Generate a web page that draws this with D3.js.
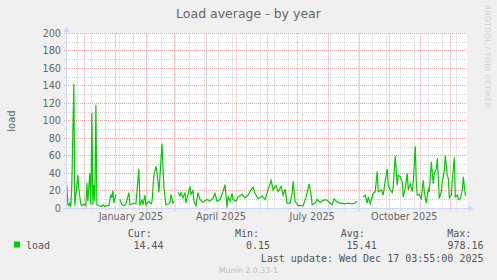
<!DOCTYPE html>
<meta charset="utf-8">
<script src="https://d3js.org/d3.v7.min.js"></script>
<style>
  body { margin: 0; background: #f0f0f0; }
  svg { display: block; }
</style>
<body>
<div id="chart"></div>
<script>

// daily load average samples (null = no data)
var dates = [
  "2024-11-13","2024-11-14","2024-11-15","2024-11-16","2024-11-17","2024-11-18","2024-11-20","2024-11-21","2024-11-24","2024-11-25","2024-11-27","2024-11-28","2024-11-30",
  "2024-12-02","2024-12-03","2024-12-04","2024-12-06","2024-12-07","2024-12-08","2024-12-09","2024-12-10","2024-12-11","2024-12-12","2024-12-13","2024-12-15","2024-12-17","2024-12-19","2024-12-21","2024-12-23","2024-12-25","2024-12-27","2024-12-28","2024-12-29","2024-12-30",
  "2025-01-01","2025-01-02","2025-01-05","2025-01-07","2025-01-09","2025-01-11","2025-01-14","2025-01-15","2025-01-17","2025-01-19","2025-01-21","2025-01-24","2025-01-25","2025-01-27","2025-01-28","2025-01-30","2025-01-31",
  "2025-02-01","2025-02-03","2025-02-05","2025-02-06","2025-02-08","2025-02-10","2025-02-11","2025-02-13","2025-02-16","2025-02-18","2025-02-20","2025-02-22","2025-02-24","2025-02-25","2025-02-27","2025-02-28",
  "2025-03-01","2025-03-04","2025-03-06","2025-03-07","2025-03-09","2025-03-11","2025-03-12","2025-03-14","2025-03-16","2025-03-17","2025-03-19","2025-03-20","2025-03-22","2025-03-24","2025-03-26","2025-03-29",
  "2025-04-02","2025-04-05","2025-04-08","2025-04-10","2025-04-12","2025-04-15","2025-04-18","2025-04-20","2025-04-22","2025-04-23","2025-04-25","2025-04-27","2025-04-28",
  "2025-05-01","2025-05-03","2025-05-07","2025-05-10","2025-05-13","2025-05-16","2025-05-18","2025-05-20","2025-05-23","2025-05-27","2025-05-30",
  "2025-06-02","2025-06-05","2025-06-07","2025-06-10","2025-06-12","2025-06-15","2025-06-17","2025-06-19","2025-06-21","2025-06-24","2025-06-26","2025-06-27","2025-06-29",
  "2025-07-02","2025-07-07","2025-07-10","2025-07-13","2025-07-15","2025-07-16","2025-07-19","2025-07-21","2025-07-24","2025-07-27","2025-07-30",
  "2025-08-02","2025-08-05","2025-08-07","2025-08-09","2025-08-12","2025-08-15","2025-08-18","2025-08-21","2025-08-25","2025-08-28","2025-08-30","2025-08-31",
  "2025-09-05","2025-09-07","2025-09-09","2025-09-10","2025-09-12","2025-09-15","2025-09-17","2025-09-19","2025-09-20","2025-09-23","2025-09-25","2025-09-27","2025-09-29","2025-09-30",
  "2025-10-02","2025-10-04","2025-10-05","2025-10-07","2025-10-09","2025-10-10","2025-10-12","2025-10-14","2025-10-15","2025-10-17","2025-10-19","2025-10-20","2025-10-22","2025-10-24","2025-10-25","2025-10-27","2025-10-28","2025-10-29","2025-10-31",
  "2025-11-02","2025-11-04","2025-11-05","2025-11-07","2025-11-09","2025-11-10","2025-11-12","2025-11-14","2025-11-15","2025-11-17","2025-11-18","2025-11-20","2025-11-22","2025-11-23","2025-11-25","2025-11-26","2025-11-28","2025-11-29","2025-11-30",
  "2025-12-02","2025-12-03","2025-12-05","2025-12-06","2025-12-08","2025-12-09","2025-12-11","2025-12-13","2025-12-14","2025-12-16"
]
var loadValues = [
  27,4,3,6,2,28,142,3,38,22,4,3,5,
  3,29,8,40,4,109,4,27,8,118,4,3,2,4,2,3,3,16,12,20,6,
  16,null,10,4,3,5,18,4,5,6,5,45,3,10,4,15,3,
  6,8,5,7,38,48,42,18,74,23,4,5,6,16,6,8,
  null,18,14,18,12,18,6,16,25,16,20,8,3,18,10,7,
  10,8,12,17,8,10,19,27,1,13,8,17,10,
  8,13,16,12,15,21,24,17,11,14,10,
  21,32,21,26,19,25,15,22,6,6,17,31,8,
  3,3,13,28,15,4,6,10,7,9,10,
  7,4,11,8,6,6,5,6,5,6,8,null,
  13,15,6,13,5,17,19,42,19,21,15,32,45,26,
  21,18,25,60,26,38,36,30,13,23,40,21,28,19,30,71,30,15,16,
  11,32,19,6,22,19,53,28,40,45,57,11,19,30,43,60,38,34,12,
  15,32,58,13,15,10,11,21,36,14
]

var yTicks = [0, 20, 40, 60, 80, 100, 120, 140, 160, 180, 200]
var xLabelDates = ["2025-01-16", "2025-04-16", "2025-07-16", "2025-10-16"]
var xLabels = ["January 2025", "April 2025", "July 2025", "October 2025"]

var legendHeads = ["Cur:", "Min:", "Avg:", "Max:"]
var legendNums = ["14.44", "0.15", "15.41", "978.16"]

var width = 497, height = 280
var parse = d3.utcParse("%Y-%m-%d")
var tEnd = new Date(Date.UTC(2025, 11, 17, 3, 55))
var tStart = d3.utcDay.offset(tEnd, -400)

var x = d3.scaleUtc().domain([tStart, tEnd]).range([66, 466.5])
var y = d3.scaleLinear().domain([0, 200]).range([208.3, 33.3])
var px = function(v) { return Math.floor(v) + 0.5 }

var svg = d3.select("#chart").append("svg")
  .attr("width", width).attr("height", height)
  .style("font-family", "'DejaVu Sans', sans-serif")

svg.append("rect").attr("width", width).attr("height", height).attr("fill", "#f0f0f0")
svg.append("rect").attr("x", 66).attr("y", 33).attr("width", 401).attr("height", 176).attr("fill", "#fff")

// horizontal grid
var minorY = d3.range(10, 200, 20)
svg.selectAll(".hmin").data(minorY).enter().append("line")
  .attr("x1", 64).attr("x2", 466.5)
  .attr("y1", function(d) { return px(y(d)) }).attr("y2", function(d) { return px(y(d)) })
  .attr("stroke", "#d0d0d0").attr("stroke-dasharray", "1,1")
svg.selectAll(".hmaj").data(yTicks.slice(1)).enter().append("line")
  .attr("x1", 64).attr("x2", 466.5)
  .attr("y1", function(d) { return px(y(d)) }).attr("y2", function(d) { return px(y(d)) })
  .attr("stroke", "#ef9f9f").attr("stroke-dasharray", "1,1")

// vertical grid: every 2 weeks (gray), every month (red)
var minorX = d3.utcSunday.range(parse("2024-11-24"), tEnd, 2)
var majorX = d3.utcMonth.range(tStart, tEnd)
svg.selectAll(".vmin").data(minorX).enter().append("line")
  .attr("x1", function(d) { return px(x(d)) }).attr("x2", function(d) { return px(x(d)) })
  .attr("y1", 33.5).attr("y2", 210.5)
  .attr("stroke", "#d0d0d0").attr("stroke-dasharray", "1,1")
svg.selectAll(".vmaj").data(majorX).enter().append("line")
  .attr("x1", function(d) { return px(x(d)) }).attr("x2", function(d) { return px(x(d)) })
  .attr("y1", 33.5).attr("y2", 211.5)
  .attr("stroke", "#ef9f9f").attr("stroke-dasharray", "1,1")

// the data line
var data = dates.map(function(d, i) { return {date: parse(d), v: loadValues[i]} })
var line = d3.line()
  .defined(function(d) { return d.v != null })
  .x(function(d) { return x(d.date) })
  .y(function(d) { return y(Math.min(d.v, 200)) })
svg.append("path").datum(data)
  .attr("d", line)
  .attr("fill", "none").attr("stroke", "#00cc00").attr("stroke-width", 1.2)

// axes with arrows
var axisCol = "#cfd6f8"
svg.append("line").attr("x1", 66.5).attr("x2", 66.5).attr("y1", 210).attr("y2", 31)
  .attr("stroke", axisCol)
svg.append("line").attr("x1", 63).attr("x2", 470).attr("y1", 208.5).attr("y2", 208.5)
  .attr("stroke", axisCol)
svg.append("path").attr("d", "M66.5,26.5L63.5,32L69.5,32Z").attr("fill", axisCol)
svg.append("path").attr("d", "M474,208.5L468.5,205.5L468.5,211.5Z").attr("fill", axisCol)

// y tick labels
svg.selectAll(".ylab").data(yTicks).enter().append("text")
  .attr("x", 61).attr("y", function(d) { return px(y(d)) + 3.5 })
  .attr("text-anchor", "end").attr("font-size", "9.7px").attr("fill", "#666")
  .text(function(d) { return d })

// x labels
svg.selectAll(".xlab").data(xLabelDates).enter().append("text")
  .attr("x", function(d) { return x(parse(d)) }).attr("y", 220)
  .attr("text-anchor", "middle").attr("font-size", "9.7px").attr("fill", "#666")
  .text(function(d, i) { return xLabels[i] })

// title
svg.append("text").attr("x", 248.5).attr("y", 17.5)
  .attr("text-anchor", "middle").attr("font-size", "12.5px").attr("fill", "#666")
  .text("Load average - by year")

// y axis label
svg.append("text").attr("transform", "translate(15,121) rotate(-90)")
  .attr("text-anchor", "middle").attr("font-size", "10px").attr("fill", "#666")
  .text("load")

// watermark
svg.append("text").attr("transform", "translate(485,5) rotate(90)")
  .attr("font-size", "7.6px").attr("fill", "#d2d2d2")
  .attr("textLength", 103).attr("lengthAdjust", "spacing")
  .text("RRDTOOL / TOBI OETIKER")

// legend
var mono = "'DejaVu Sans Mono', monospace"
var headX = [127.7, 235, 340.7, 447.3]
var numEnd = [163.5, 270, 376.7, 483.5]
svg.selectAll(".lh").data(legendHeads).enter().append("text")
  .attr("x", function(d, i) { return headX[i] }).attr("y", 237)
  .attr("font-family", mono).attr("font-size", "10px").attr("fill", "#555")
  .text(function(d) { return d })
svg.selectAll(".ln").data(legendNums).enter().append("text")
  .attr("x", function(d, i) { return numEnd[i] }).attr("y", 249)
  .attr("text-anchor", "end")
  .attr("font-family", mono).attr("font-size", "10px").attr("fill", "#555")
  .text(function(d) { return d })
svg.append("rect").attr("x", 14).attr("y", 241.5).attr("width", 6).attr("height", 6).attr("fill", "#00cc00")
svg.append("text").attr("x", 26).attr("y", 249)
  .attr("font-family", mono).attr("font-size", "10px").attr("fill", "#555")
  .text("load")
svg.append("text").attr("x", 483.5).attr("y", 261.5).attr("text-anchor", "end")
  .attr("font-family", mono).attr("font-size", "10px").attr("fill", "#555")
  .text("Last update: Wed Dec 17 03:55:00 2025")

svg.append("text").attr("x", 248.5).attr("y", 272.5).attr("text-anchor", "middle")
  .attr("font-size", "7.8px").attr("fill", "#bbb")
  .text("Munin 2.0.33-1")

</script>
</body>
